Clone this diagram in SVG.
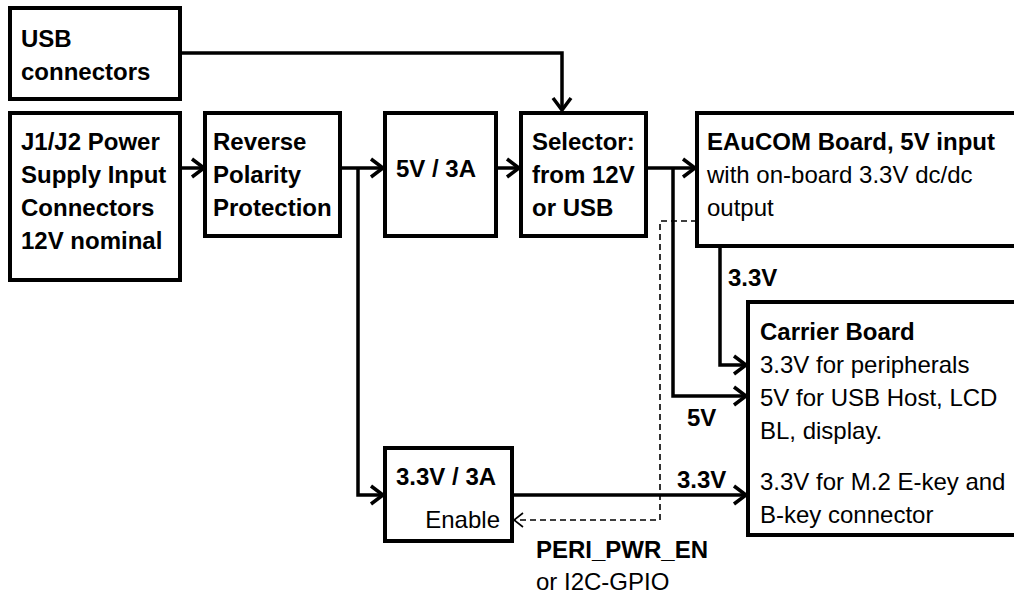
<svg xmlns="http://www.w3.org/2000/svg" width="1014" height="597" viewBox="0 0 1014 597">
<defs>
<style>
.box{fill:#fff;stroke:#000;stroke-width:4}
.ln{fill:none;stroke:#000;stroke-width:3.5}
.dash{fill:none;stroke:#000;stroke-width:1.6;stroke-dasharray:6 4}
text{font-family:"Liberation Sans",Arial,sans-serif;font-size:24px;fill:#000}
.b{font-weight:bold}
</style>
<marker id="ah" markerUnits="userSpaceOnUse" markerWidth="22" markerHeight="24" refX="14" refY="12" orient="auto">
<path d="M2,3 L14,12 L2,21" fill="none" stroke="#000" stroke-width="3.5"/>
</marker>
<marker id="ahd" markerUnits="userSpaceOnUse" markerWidth="16" markerHeight="18" refX="12" refY="9" orient="auto">
<path d="M3,2 L12,9 L3,16" fill="none" stroke="#000" stroke-width="1.6"/>
</marker>
</defs>

<g id="connectors">
<path class="ln" d="M180,53 H562 V110" marker-end="url(#ah)"/>
<path class="ln" d="M180,168 H204" marker-end="url(#ah)"/>
<path class="ln" d="M340,168 H383" marker-end="url(#ah)"/>
<path class="ln" d="M496,168 H519" marker-end="url(#ah)"/>
<path class="ln" d="M646,168 H695" marker-end="url(#ah)"/>
<path class="ln" d="M358,168 V495 H383" marker-end="url(#ah)"/>
<path class="ln" d="M673,168 V396 H746" marker-end="url(#ah)"/>
<path class="ln" d="M720,246 V365 H746" marker-end="url(#ah)"/>
<path class="ln" d="M512,495 H746" marker-end="url(#ah)"/>
<path class="dash" d="M697,221 H660 V520 H514" marker-end="url(#ahd)"/>
<text class="b" x="728" y="286">3.3V</text>
<text class="b" x="687" y="426">5V</text>
<text class="b" x="677" y="488">3.3V</text>
<text class="b" x="536" y="558">PERI_PWR_EN</text>
<text x="536" y="590">or I2C-GPIO</text>
</g>

<g id="usb">
<rect class="box" x="10" y="8" width="170" height="91"/>
<text class="b" x="21" y="47">USB</text>
<text class="b" x="21" y="80">connectors</text>
</g>

<g id="j1j2">
<rect class="box" x="10" y="113" width="170" height="167"/>
<text class="b" x="21" y="150">J1/J2 Power</text>
<text class="b" x="21" y="183">Supply Input</text>
<text class="b" x="21" y="216">Connectors</text>
<text class="b" x="21" y="249">12V nominal</text>
</g>

<g id="reverse">
<rect class="box" x="205" y="113" width="135" height="123"/>
<text class="b" x="213" y="150">Reverse</text>
<text class="b" x="213" y="183">Polarity</text>
<text class="b" x="213" y="216">Protection</text>
</g>

<g id="reg5v">
<rect class="box" x="385" y="113" width="111" height="123"/>
<text class="b" x="396" y="177">5V / 3A</text>
</g>

<g id="selector">
<rect class="box" x="521" y="113" width="125" height="123"/>
<text class="b" x="532" y="150">Selector:</text>
<text class="b" x="532" y="183">from 12V</text>
<text class="b" x="532" y="216">or USB</text>
</g>

<g id="eaucom">
<rect class="box" x="697" y="113" width="340" height="133"/>
<text class="b" x="707" y="150">EAuCOM Board, 5V input</text>
<text x="707" y="183">with on-board 3.3V dc/dc</text>
<text x="707" y="216">output</text>
</g>

<g id="carrier">
<rect class="box" x="748" y="302" width="290" height="233"/>
<text class="b" x="760" y="340">Carrier Board</text>
<text x="760" y="373">3.3V for peripherals</text>
<text x="760" y="406">5V for USB Host, LCD</text>
<text x="760" y="439">BL, display.</text>
<text x="760" y="490">3.3V for M.2 E-key and</text>
<text x="760" y="523">B-key connector</text>
</g>

<g id="reg33v">
<rect class="box" x="385" y="448" width="127" height="93"/>
<text class="b" x="396" y="485">3.3V / 3A</text>
<text x="500" y="528" text-anchor="end">Enable</text>
</g>
</svg>
